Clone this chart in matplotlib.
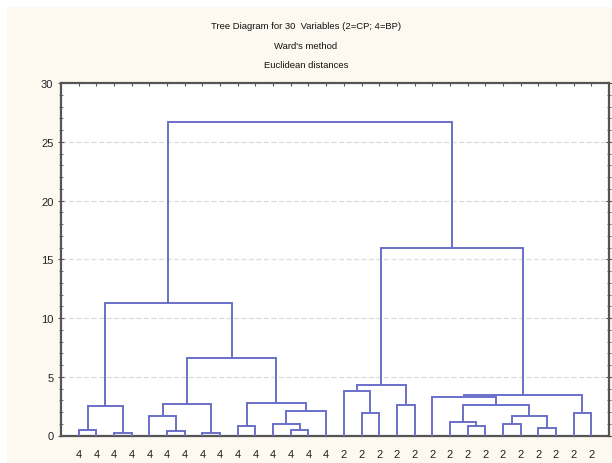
import matplotlib.pyplot as plt
from matplotlib.patches import Rectangle
from matplotlib.ticker import MultipleLocator

plt.rcParams["font.family"] = ["Liberation Sans", "DejaVu Sans"]

# leaf labels in displayed order (2=CP, 4=BP)
leaf_labels = ["4"] * 15 + ["2"] * 15

# merges like a linkage table: left node, right node, height
# leaves are 0..29, each merge makes node 30, 31, ...
merge_left = [2, 7, 5, 0, 12, 26, 9, 22, 24, 11, 21, 38, 4, 16, 28,
              39, 33, 42, 40, 18, 36, 20, 51, 15, 53, 47, 46, 54, 56]
merge_right = [3, 8, 6, 1, 13, 27, 10, 23, 25, 34, 37, 35, 32, 17, 29,
               14, 30, 31, 41, 19, 45, 48, 44, 43, 49, 50, 55, 52, 57]
merge_height = [0.2, 0.2, 0.35, 0.5, 0.5, 0.67, 0.82, 0.84, 0.95, 1.0,
                1.18, 1.64, 1.68, 1.9, 1.9, 2.1, 2.55, 2.65, 2.6, 2.6,
                2.8, 3.26, 3.45, 3.75, 4.3, 6.6, 11.3, 15.95, 26.7]

line_col = "#6a70c8"
n = len(leaf_labels)

fig = plt.figure(figsize=(6.12, 4.64), dpi=100, facecolor="white")
fig.patches.append(Rectangle((7 / 612, 0), 1, (464 - 8) / 464, transform=fig.transFigure,
                             facecolor="#fdf9f0", edgecolor="none", zorder=-10))
ax = fig.add_axes([61 / 612, (464 - 436.5) / 464, 548 / 612, 352.5 / 464])
ax.set_facecolor("white")

xpos = {i: i + 1 for i in range(n)}
ypos = {i: 0.0 for i in range(n)}
for k, (a, b, h) in enumerate(zip(merge_left, merge_right, merge_height)):
    xa, xb = xpos[a], xpos[b]
    ax.plot([xa, xa, xb, xb], [ypos[a], h, h, ypos[b]], color=line_col, lw=1.4,
            solid_joinstyle="miter", zorder=3)
    xpos[n + k] = (xa + xb) / 2
    ypos[n + k] = h

ax.set_xlim(0, n + 1)
ax.set_ylim(0, 30)
ax.set_xticks(range(1, n + 1))
ax.set_xticklabels(leaf_labels)
ax.yaxis.set_major_locator(MultipleLocator(5))
ax.yaxis.set_minor_locator(MultipleLocator(1))
for y in range(5, 30, 5):
    ax.axhline(y, color="#dcdcdc", lw=0.9, ls=(0, (4, 2)), zorder=1)

ax.tick_params(axis="x", bottom=False, top=True, direction="in", length=2,
               labelsize=8, pad=10, labelcolor="#222222", color="#555555")
ax.tick_params(axis="y", which="both", left=True, right=True, direction="inout",
               labelsize=8, labelcolor="#222222", color="#555555")
ax.tick_params(axis="y", which="major", length=4)
ax.tick_params(axis="y", which="minor", length=3)
for s in ax.spines.values():
    s.set_color("#555555")
    s.set_linewidth(1.6)

fig.text(0.5, 0.942, "Tree Diagram for 30  Variables (2=CP; 4=BP)", ha="center", va="center",
         fontsize=6.8, color="#111111")
fig.text(0.5, 0.899, "Ward's method", ha="center", va="center",
         fontsize=6.8, color="#111111")
fig.text(0.5, 0.858, "Euclidean distances", ha="center", va="center",
         fontsize=6.8, color="#111111")

fig.savefig("out.png", dpi=100, facecolor=fig.get_facecolor())
